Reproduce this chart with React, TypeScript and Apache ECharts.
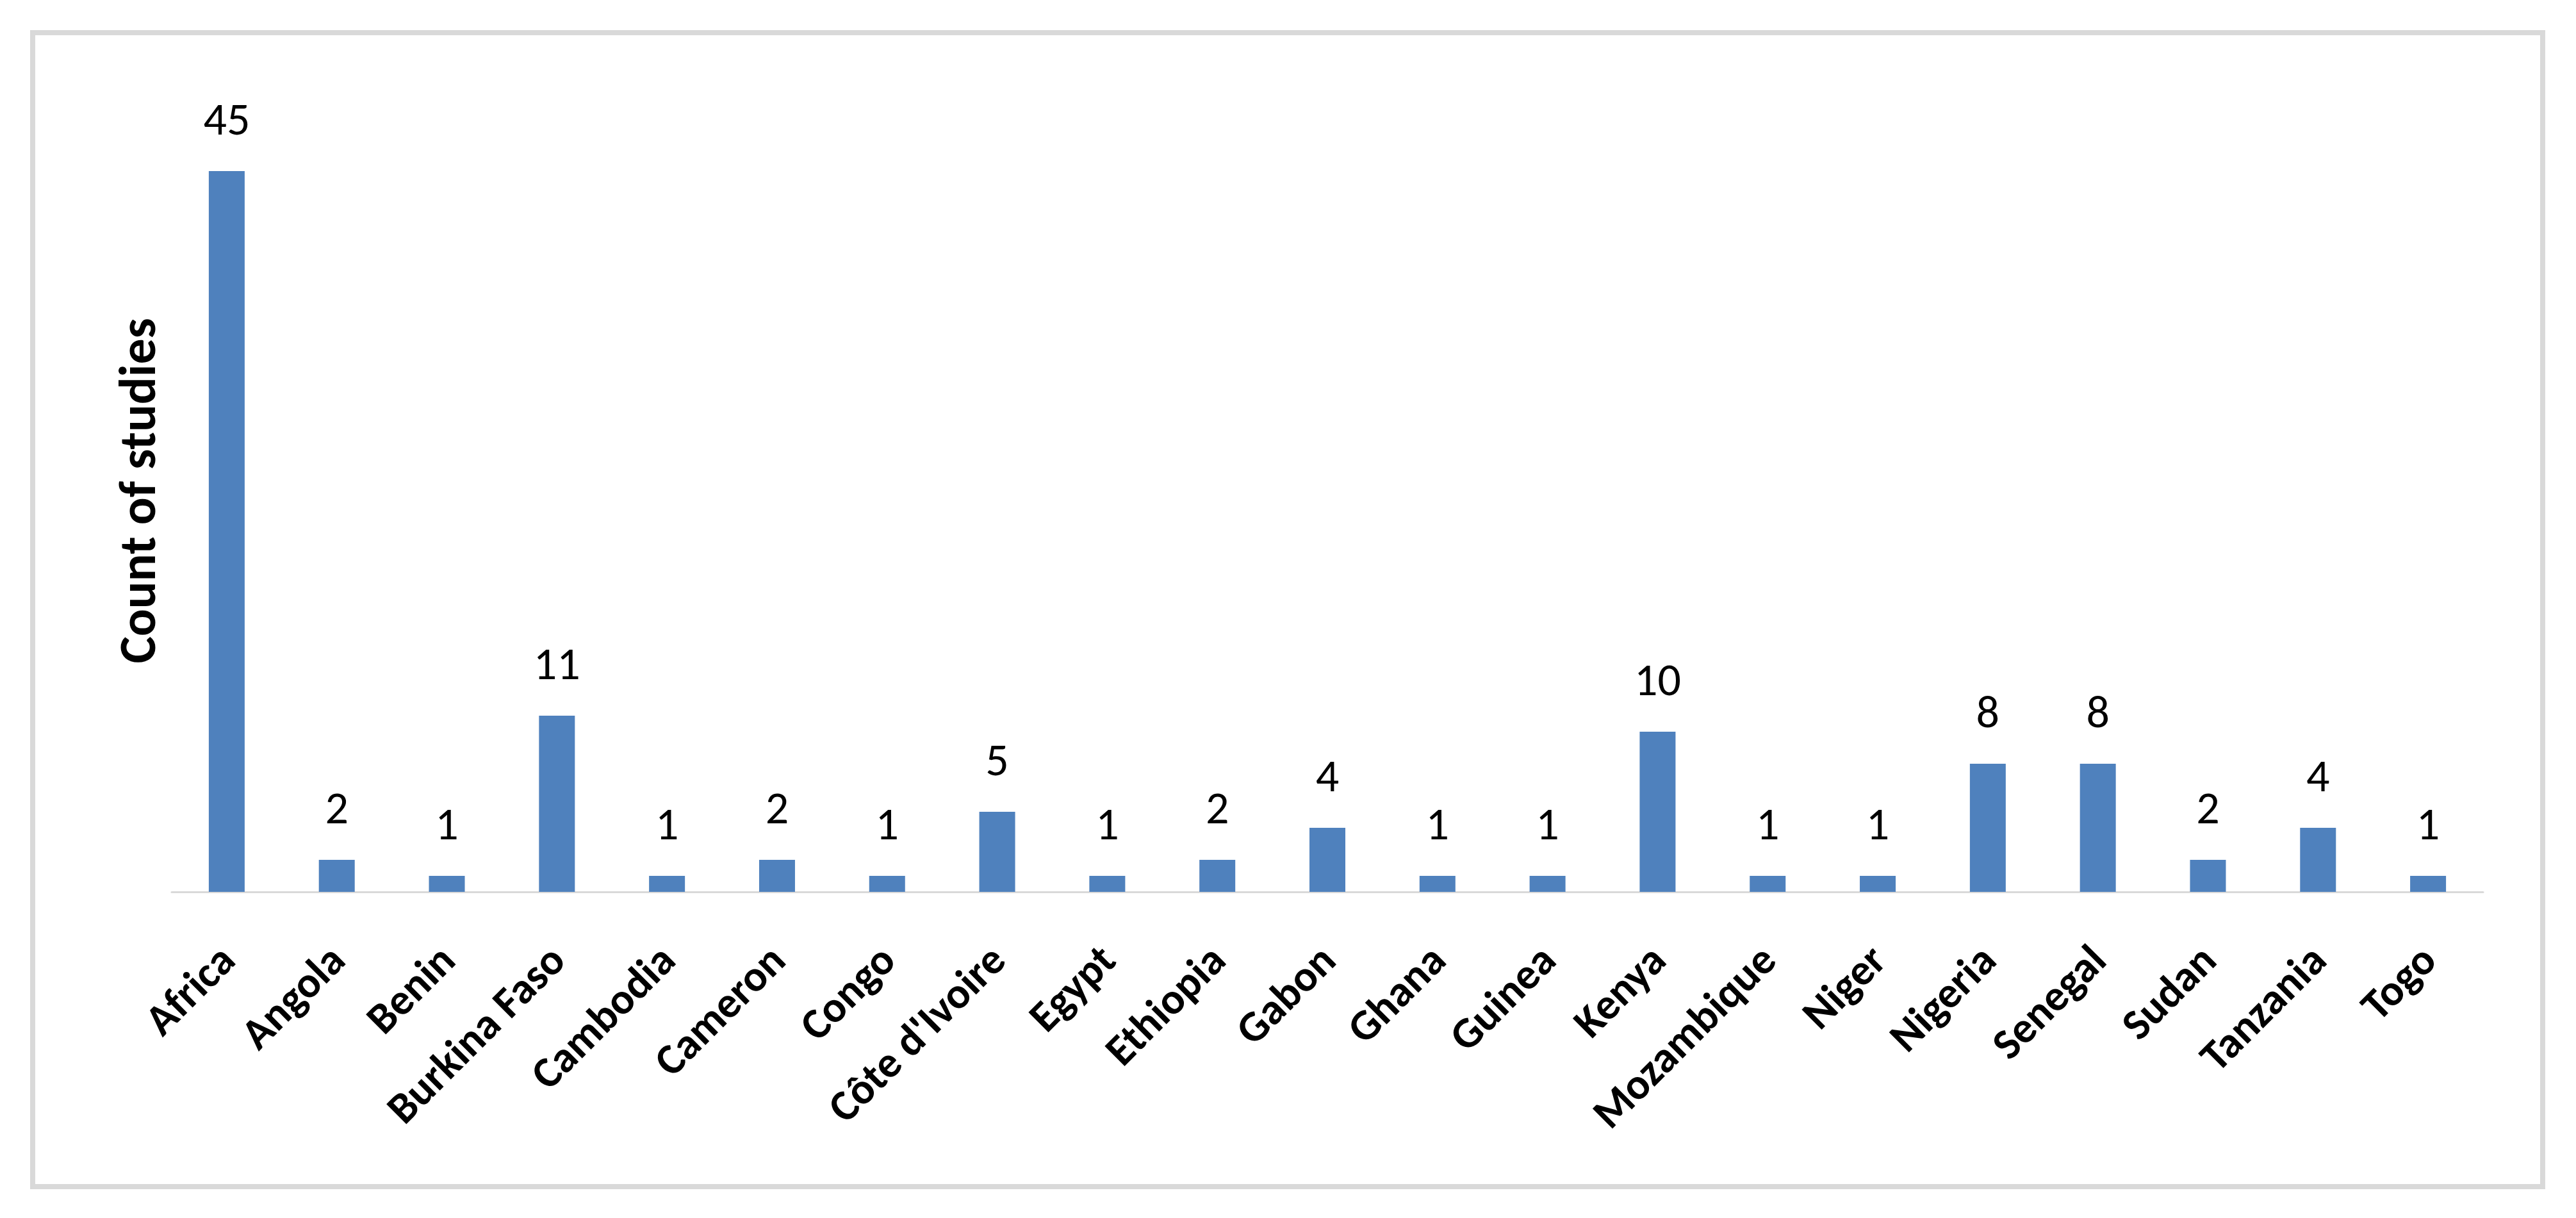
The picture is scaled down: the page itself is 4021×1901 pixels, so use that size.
import React, { useEffect, useRef } from "react";
import * as echarts from "echarts";

const categories = [
  "Africa", "Angola", "Benin", "Burkina Faso", "Cambodia", "Cameron", "Congo",
  "Côte d'Ivoire", "Egypt", "Ethiopia", "Gabon", "Ghana", "Guinea", "Kenya",
  "Mozambique", "Niger", "Nigeria", "Senegal", "Sudan", "Tanzania", "Togo",
];
const studyCounts = [45, 2, 1, 11, 1, 2, 1, 5, 1, 2, 4, 1, 1, 10, 1, 1, 8, 8, 2, 4, 1];
const yAxisTitle = "Count of studies";

const FONT = "Carlito, Calibri, Lato, sans-serif";

export default function App() {
  const ref = useRef<HTMLDivElement>(null);
  useEffect(() => {
    if (!ref.current) return;
    const chart = echarts.init(ref.current, null, { renderer: "svg" });
    chart.setOption({
      animation: false,
      backgroundColor: "#ffffff",
      grid: { left: 268, right: 145, top: 142, bottom: 509, containLabel: false },
      xAxis: {
        type: "category",
        data: categories,
        axisLine: { show: true, lineStyle: { color: "#d9d9d9", width: 3 } },
        axisTick: { show: false },
        axisLabel: {
          interval: 0,
          rotate: 45,
          margin: 94,
          fontFamily: FONT,
          fontWeight: "bold",
          fontSize: 68,
          color: "#000000",
        },
      },
      yAxis: {
        type: "value",
        min: 0,
        max: 50,
        show: false,
        splitLine: { show: false },
      },
      series: [
        {
          type: "bar",
          data: studyCounts,
          barWidth: 56,
          itemStyle: { color: "#4f81bd" },
          label: {
            show: true,
            position: "top",
            distance: 46,
            fontFamily: FONT,
            fontSize: 72,
            color: "#000000",
          },
        },
      ],
      graphic: [
        {
          type: "rect",
          shape: { x: 51, y: 51, width: 3918, height: 1801 },
          style: { fill: "none", stroke: "#d9d9d9", lineWidth: 8 },
          silent: true,
        },
        {
          type: "text",
          x: 214,
          y: 766,
          rotation: Math.PI / 2,
          style: {
            text: yAxisTitle,
            fontFamily: FONT,
            fontWeight: "bold",
            fontSize: 80,
            fill: "#000000",
            textAlign: "center",
            textVerticalAlign: "middle",
          },
        },
      ],
    });
    return () => chart.dispose();
  }, []);
  return (
    <div
      ref={ref}
      style={{ position: "absolute", left: 0, top: 0, width: 4021, height: 1901 }}
    />
  );
}
